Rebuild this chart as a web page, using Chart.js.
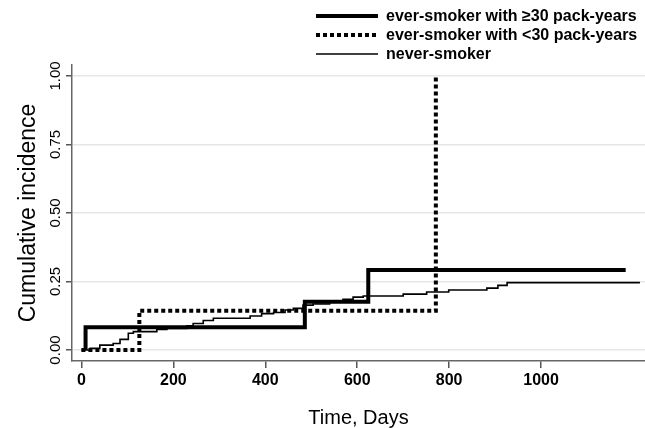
<!DOCTYPE html>
<html><head><meta charset="utf-8">
<script src="https://cdn.jsdelivr.net/npm/chart.js@4"></script>
<style>html,body{margin:0;padding:0;background:#fff;overflow:hidden}</style>
</head><body>
<canvas id="c" width="645" height="428"></canvas>
<script>
// ---- data ----
const seriesNames = ['ever-smoker with \u226530 pack-years', 'ever-smoker with <30 pack-years', 'never-smoker'];
const heavyDays = [9, 9, 486, 624, 1184];
const heavyInc  = [0, 0.083, 0.176, 0.292, 0.292];
const lightDays = [0, 126, 771];
const lightInc  = [0, 0.143, 1.0];
const neverDays = [0, 19, 40, 69, 84, 102, 113, 164, 186, 229, 243, 265, 287, 367, 392, 418, 443, 461, 482, 504, 540, 569, 591, 613, 700, 751, 799, 882, 906, 926, 1215];
const neverInc  = [0, 0.006, 0.018, 0.024, 0.039, 0.061, 0.067, 0.075, 0.079, 0.088, 0.097, 0.108, 0.116, 0.124, 0.133, 0.137, 0.146, 0.152, 0.164, 0.168, 0.180, 0.185, 0.193, 0.197, 0.204, 0.212, 0.219, 0.226, 0.236, 0.246, 0.246];
const xTicks = [0, 200, 400, 600, 800, 1000];
const yTicks = [0, 0.25, 0.5, 0.75, 1];
const yTickLabels = ['0.00', '0.25', '0.50', '0.75', '1.00'];
const xTitle = 'Time, Days';
const yTitle = 'Cumulative incidence';

const pts = (xs, ys) => xs.map((x, i) => ({x: x, y: ys[i]}));
const FONT = 'Liberation Sans, Arial, Helvetica, sans-serif';

const customDraw = {
  id: 'customDraw',
  afterDraw(chart) {
    const ctx = chart.ctx;
    const ys = chart.scales.y;
    // rotated y tick labels
    ctx.save();
    ctx.fillStyle = '#000';
    ctx.font = '15px ' + FONT;
    ctx.textAlign = 'center';
    ctx.textBaseline = 'middle';
    yTicks.forEach((v, i) => {
      const py = ys.getPixelForValue(v);
      ctx.save();
      ctx.translate(56, py);
      ctx.rotate(-Math.PI / 2);
      ctx.fillText(yTickLabels[i], 0, 0);
      ctx.restore();
    });
    ctx.restore();
    // legend
    ctx.save();
    const rows = [16, 35, 54];
    chart.data.datasets.forEach((ds, i) => {
      const y = rows[i];
      ctx.beginPath();
      ctx.strokeStyle = ds.borderColor;
      ctx.lineWidth = ds.borderWidth;
      ctx.lineCap = 'butt';
      ctx.setLineDash(ds.borderDash || []);
      ctx.moveTo(316, y);
      ctx.lineTo(378, y);
      ctx.stroke();
      ctx.setLineDash([]);
      ctx.fillStyle = '#000';
      ctx.font = 'bold 16px ' + FONT;
      ctx.textAlign = 'left';
      ctx.textBaseline = 'middle';
      ctx.fillText(ds.label, 386, y + 1);
    });
    ctx.restore();
  }
};

new Chart(document.getElementById('c'), {
  type: 'scatter',
  data: {
    datasets: [
      {label: seriesNames[0], data: pts(heavyDays, heavyInc), borderColor: '#000', borderWidth: 4, stepped: 'before'},
      {label: seriesNames[1], data: pts(lightDays, lightInc), borderColor: '#000', borderWidth: 4, borderDash: [4, 3], stepped: 'before'},
      {label: seriesNames[2], data: pts(neverDays, neverInc), borderColor: '#000', borderWidth: 1.6, stepped: 'before'}
    ]
  },
  options: {
    responsive: false,
    animation: false,
    showLine: true,
    elements: {point: {radius: 0, hoverRadius: 0}, line: {borderCapStyle: 'butt', borderJoinStyle: 'miter'}},
    layout: {padding: {top: 65, right: 0, left: 0, bottom: 0}},
    plugins: {legend: {display: false}, tooltip: {enabled: false}},
    scales: {
      x: {
        type: 'linear', min: -20.5, max: 1226,
        afterBuildTicks: s => { s.ticks = xTicks.map(v => ({value: v})); },
        afterFit: s => { s.height = 67; },
        grid: {drawOnChartArea: false, drawTicks: true, tickLength: 7, tickColor: '#555', lineWidth: 1.5},
        border: {color: '#666', width: 1.5},
        ticks: {color: '#000', font: {family: FONT, size: 16, weight: 'bold'}, padding: 3, maxRotation: 0, autoSkip: false,
                callback: v => String(v)},
        title: {display: true, text: xTitle, color: '#000', font: {family: FONT, size: 20, lineHeight: 1.0}, padding: 0}
      },
      y: {
        type: 'linear', min: -0.04, max: 1.04,
        afterBuildTicks: s => { s.ticks = yTicks.map(v => ({value: v})); },
        afterFit: s => { s.width = 72; },
        grid: {color: '#e6e6e6', lineWidth: 1.5, drawTicks: true, tickLength: 6, tickColor: '#555'},
        border: {color: '#666', width: 1.5},
        ticks: {display: false},
        title: {display: true, text: yTitle, color: '#000', font: {family: FONT, size: 23, lineHeight: 1.0}, padding: {top: 17, bottom: 0}}
      }
    }
  },
  plugins: [customDraw]
});
</script>
</body></html>
